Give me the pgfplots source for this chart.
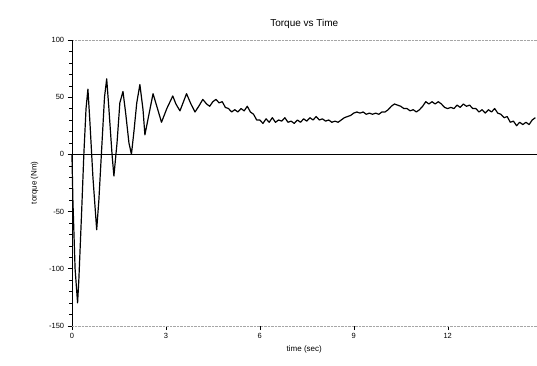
\documentclass[border=0pt]{standalone}
\usepackage{pgfplots}
\pgfplotsset{compat=1.18}
\usepackage{fontspec}
\setmainfont{Liberation Sans}
\begin{document}
\begin{tikzpicture}[x=1pt,y=1pt]
\begin{axis}[
  scale only axis,
  width=465pt, height=286pt,
  xmin=0, xmax=14.84, ymin=-150, ymax=100,
  separate axis lines,
  axis x line*=box, axis y line*=left,
  x axis line style={gray!70, densely dotted, -},
  y axis line style={black, -},
  xtick={0,3,6,9,12}, ytick={-150,-100,-50,0,50,100},
  minor y tick num=4,
  tick style={black},
  tick align=outside,
  xtick pos=bottom,
  ticklabel style={font=\fontsize{7.5}{8}\selectfont},
  /pgf/number format/assume math mode=true,
  title={Torque vs Time},
  title style={font=\fontsize{10}{11}\selectfont, yshift=2pt},
  xlabel={time (sec)},
  ylabel={torque (Nm)},
  xlabel style={font=\fontsize{8}{9}\selectfont},
  ylabel style={font=\fontsize{8}{9}\selectfont, yshift=4pt},
  clip=false,
]
\addplot[black, line width=0.8pt] coordinates {(0,0) (14.84,0)};
\addplot[black, line width=1.2pt, line join=round] coordinates {
(0,0) (0.03,-40) (0.1,-100) (0.18,-130) (0.22,-110) (0.31,-50) (0.38,0)
(0.45,40) (0.51,57) (0.57,30) (0.67,-20) (0.79,-66) (0.86,-40) (0.96,10)
(1.04,50) (1.11,66) (1.18,40) (1.28,0) (1.34,-19) (1.44,10) (1.53,45)
(1.63,55) (1.72,35) (1.82,10) (1.90,0) (1.98,20) (2.07,45) (2.17,61)
(2.27,39) (2.33,17) (2.46,35) (2.59,53) (2.71,42) (2.86,28) (3.03,40)
(3.22,51) (3.32,44) (3.45,38) (3.66,53) (3.80,44) (3.93,37) (4.05,42)
(4.18,48) (4.30,44) (4.40,42) (4.50,46)
(4.6,48) (4.7,45) (4.8,46) (4.9,41) (5.0,40) (5.1,37) (5.2,39) (5.3,37)
(5.4,40) (5.5,38) (5.6,42) (5.7,37) (5.8,35) (5.9,30) (6.0,30) (6.1,27)
(6.2,31) (6.3,28) (6.4,32) (6.5,28) (6.6,30) (6.7,29) (6.8,32) (6.9,28)
(7.0,29) (7.1,27) (7.2,30) (7.3,28) (7.4,31) (7.5,29) (7.6,32) (7.7,30)
(7.8,33) (7.9,30) (8.0,31) (8.1,29) (8.2,30) (8.3,28) (8.4,29) (8.5,28)
(8.6,30) (8.7,32) (8.8,33) (8.9,34) (9.0,36) (9.1,37) (9.2,36) (9.3,37)
(9.4,35) (9.5,36) (9.6,35) (9.7,36) (9.8,35) (9.9,37) (10.0,37) (10.1,39)
(10.2,42) (10.3,44) (10.4,43) (10.5,42) (10.6,40) (10.7,40) (10.8,38)
(10.9,39) (11.0,37) (11.1,39) (11.2,42) (11.3,46) (11.4,44) (11.5,46)
(11.6,44) (11.7,46) (11.8,44) (11.9,41) (12.0,40) (12.1,41) (12.2,40)
(12.3,43) (12.4,41) (12.5,44) (12.6,42) (12.7,43) (12.8,40) (12.9,40)
(13.0,37) (13.1,39) (13.2,36) (13.3,39) (13.4,37) (13.5,40) (13.6,36)
(13.7,35) (13.8,32) (13.9,33) (14.0,28) (14.1,29) (14.2,25) (14.3,28)
(14.4,26) (14.5,28) (14.6,26) (14.7,30) (14.8,32)
};
\path (rel axis cs:0,0) ++(-72pt,-40pt) coordinate (bl);
\path (rel axis cs:1,1) ++(0pt,40pt) coordinate (tr);
\end{axis}
\useasboundingbox (bl) rectangle (tr);
\end{tikzpicture}
\end{document}
